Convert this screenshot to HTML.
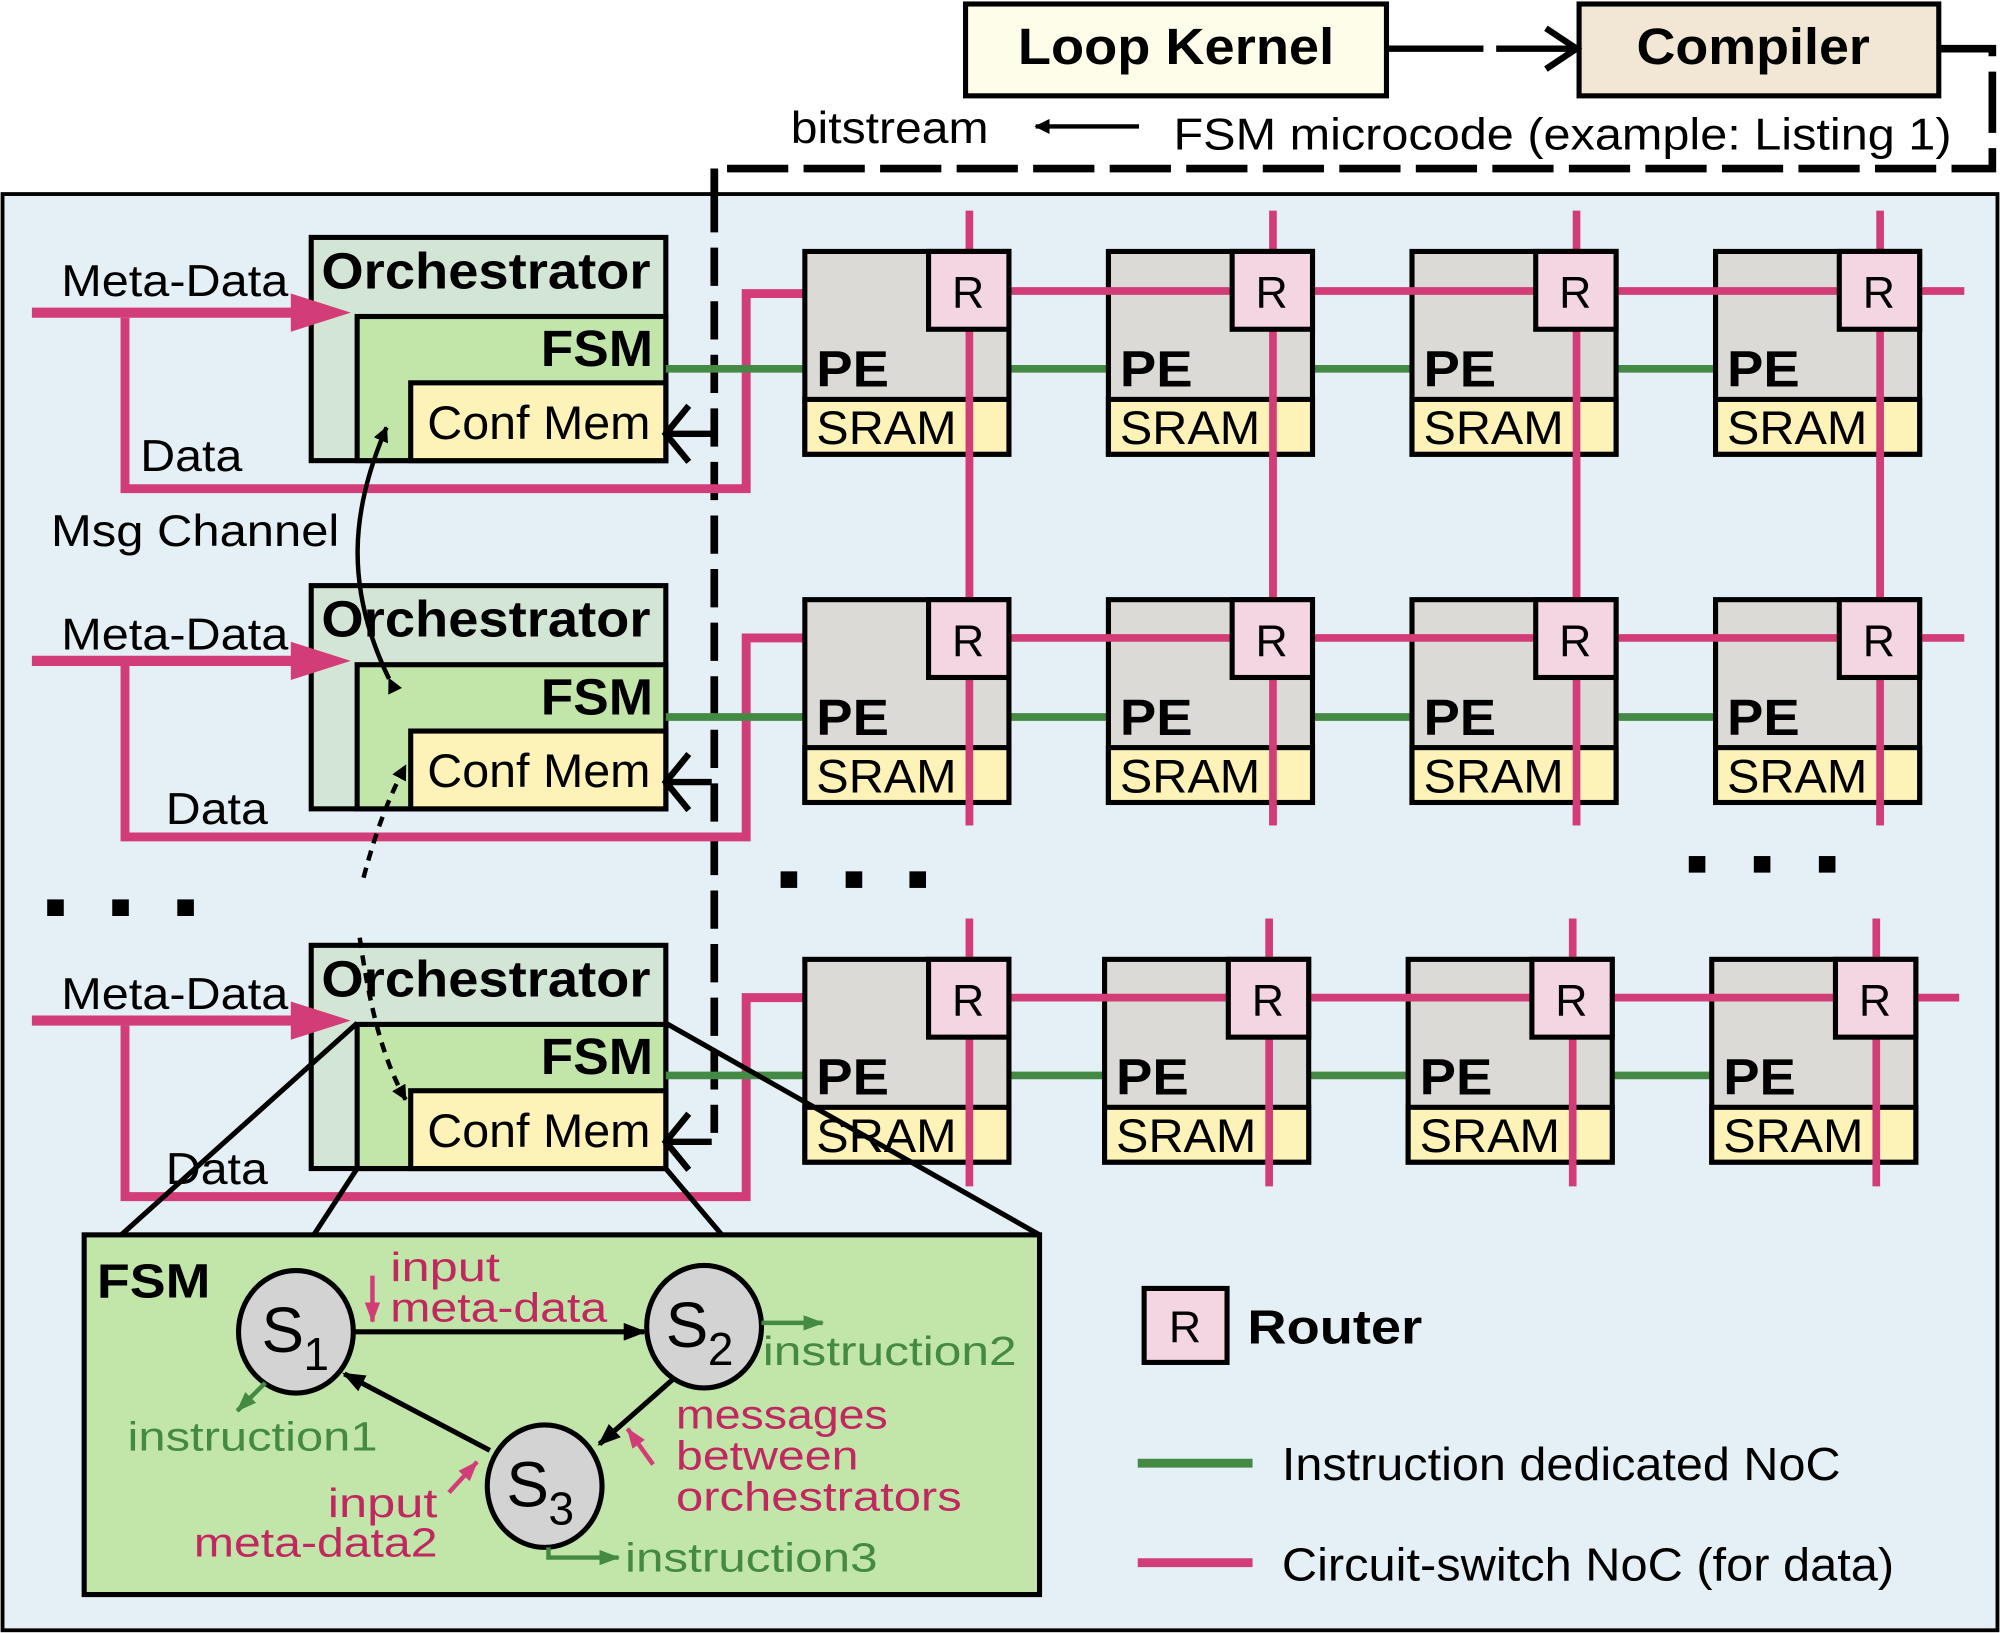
<!DOCTYPE html>
<html><head><meta charset="utf-8"><style>
html,body{margin:0;padding:0;background:#fff;}
svg{display:block;}
text{font-family:"Liberation Sans",sans-serif;}
.b{font-weight:bold;}
.n{font-family:"DejaVu Sans",sans-serif;}
</style></head><body>
<svg width="2000" height="1633" viewBox="0 0 1568 1280" xmlns="http://www.w3.org/2000/svg">
<defs>
<marker id="ab" markerWidth="12" markerHeight="12" refX="11" refY="6" orient="auto" markerUnits="userSpaceOnUse"><path d="M0,0 L12,6 L0,12 z" fill="#000"/></marker>
<marker id="ab2" markerWidth="18" markerHeight="14" refX="16" refY="7" orient="auto" markerUnits="userSpaceOnUse"><path d="M0,0 L18,7 L0,14 z" fill="#000"/></marker>
<marker id="ag" markerWidth="16" markerHeight="12" refX="15" refY="6" orient="auto" markerUnits="userSpaceOnUse"><path d="M0,0 L16,6 L0,12 z" fill="#458a44"/></marker>
<marker id="ap" markerWidth="16" markerHeight="12" refX="15" refY="6" orient="auto" markerUnits="userSpaceOnUse"><path d="M0,0 L16,6 L0,12 z" fill="#d23c77"/></marker>
</defs>
<!-- top -->
<rect x="757" y="3" width="330" height="72" fill="#fefde9" stroke="#000" stroke-width="4"/>
<text x="798" y="50" font-size="40" class="b" textLength="248" lengthAdjust="spacingAndGlyphs">Loop Kernel</text>
<rect x="1238" y="3" width="282" height="72" fill="#f2e6d4" stroke="#000" stroke-width="4"/>
<text x="1283" y="50" font-size="40" class="b" textLength="183" lengthAdjust="spacingAndGlyphs">Compiler</text>
<line x1="1089" y1="38" x2="1163" y2="38" stroke="#000" stroke-width="5"/>
<line x1="1173" y1="38" x2="1236" y2="38" stroke="#000" stroke-width="5"/>
<path d="M1212,22 L1236,38 L1212,54" fill="none" stroke="#000" stroke-width="5"/>
<path d="M1520,38 L1562,38 L1562,132 L560,132 L560,888" fill="none" stroke="#000" stroke-width="6" stroke-dasharray="48,12"/>
<text x="620" y="112" font-size="35" textLength="155" lengthAdjust="spacingAndGlyphs">bitstream</text>
<line x1="893" y1="99" x2="812" y2="99" stroke="#000" stroke-width="3.5" marker-end="url(#ab)"/>
<text x="920" y="117" font-size="35" textLength="610" lengthAdjust="spacingAndGlyphs">FSM microcode (example: Listing 1)</text>
<!-- outer -->
<rect x="2" y="152" width="1564" height="1126" fill="#e4f0f6" stroke="#000" stroke-width="3"/>
<path d="M560,152 L560,888" fill="none" stroke="#000" stroke-width="6" stroke-dasharray="30,12"/>
<line x1="560" y1="132" x2="560" y2="152" stroke="#000" stroke-width="6"/>

<g stroke="#d23c77" stroke-width="6">
<line x1="760" y1="165" x2="760" y2="647"/><line x1="998" y1="165" x2="998" y2="647"/>
<line x1="1236" y1="165" x2="1236" y2="647"/><line x1="1474" y1="165" x2="1474" y2="647"/>
</g>

<g id="row">
<rect x="244" y="186" width="278" height="175" fill="#d3e6d6" stroke="#000" stroke-width="4"/>
<rect x="280" y="248" width="242" height="113" fill="#c2e5aa" stroke="#000" stroke-width="4"/>
<rect x="322" y="300" width="200" height="61" fill="#fdf3b8" stroke="#000" stroke-width="4"/>
<text x="252" y="226" font-size="40" class="b" textLength="258" lengthAdjust="spacingAndGlyphs">Orchestrator</text>
<text x="424" y="287" font-size="40" class="b" textLength="88" lengthAdjust="spacingAndGlyphs">FSM</text>
<text x="335" y="344" font-size="37" textLength="175" lengthAdjust="spacingAndGlyphs">Conf Mem</text>
<line x1="25" y1="245" x2="240" y2="245" stroke="#d23c77" stroke-width="8"/>
<path d="M228,230 L275,245 L228,260 z" fill="#d23c77"/>
<line x1="558" y1="340" x2="520" y2="340" stroke="#000" stroke-width="5"/>
<path d="M540,318 L522,340 L540,362" fill="none" stroke="#000" stroke-width="5"/>
</g>
<use href="#row" y="273"/>
<use href="#row" y="555"/>
<g font-size="35">
<text x="48" y="232" textLength="178" lengthAdjust="spacingAndGlyphs">Meta-Data</text>
<text x="48" y="509" textLength="178" lengthAdjust="spacingAndGlyphs">Meta-Data</text>
<text x="48" y="791" textLength="178" lengthAdjust="spacingAndGlyphs">Meta-Data</text>
<text x="110" y="369" textLength="80" lengthAdjust="spacingAndGlyphs">Data</text>
<text x="130" y="646" textLength="80" lengthAdjust="spacingAndGlyphs">Data</text>
<text x="130" y="928" textLength="80" lengthAdjust="spacingAndGlyphs">Data</text>
<text x="40" y="428" textLength="226" lengthAdjust="spacingAndGlyphs">Msg Channel</text>
</g>
<g fill="none" stroke="#d23c77" stroke-width="7">
<path d="M98,249 L98,383 L585,383 L585,230 L730,230"/>
<path d="M98,522 L98,656 L585,656 L585,500 L730,500"/>
<path d="M98,804 L98,938 L585,938 L585,782 L730,782"/>
</g>

<g stroke="#458a44" stroke-width="6">
<line x1="522" y1="289" x2="631" y2="289"/><line x1="791" y1="289" x2="869" y2="289"/><line x1="1029" y1="289" x2="1107" y2="289"/><line x1="1267" y1="289" x2="1345" y2="289"/>
<line x1="522" y1="562" x2="631" y2="562"/><line x1="791" y1="562" x2="869" y2="562"/><line x1="1029" y1="562" x2="1107" y2="562"/><line x1="1267" y1="562" x2="1345" y2="562"/>
<line x1="522" y1="843" x2="631" y2="843"/><line x1="791" y1="843" x2="866" y2="843"/><line x1="1026" y1="843" x2="1104" y2="843"/><line x1="1264" y1="843" x2="1342" y2="843"/>
</g>

<g id="pe1">
<rect x="631" y="197" width="160" height="159" fill="#dcdad6" stroke="#000" stroke-width="4"/>
<rect x="631" y="313" width="160" height="43" fill="#fdf3b8" stroke="#000" stroke-width="4"/>
<text x="640" y="303" font-size="40" class="b" textLength="57" lengthAdjust="spacingAndGlyphs">PE</text>
<text x="640" y="348" font-size="37" textLength="110" lengthAdjust="spacingAndGlyphs">SRAM</text>
</g>
<use href="#pe1" x="238"/><use href="#pe1" x="476"/><use href="#pe1" x="714"/>
<use href="#pe1" y="273"/><use href="#pe1" x="238" y="273"/><use href="#pe1" x="476" y="273"/><use href="#pe1" x="714" y="273"/>
<use href="#pe1" y="555"/><use href="#pe1" x="235" y="555"/><use href="#pe1" x="473" y="555"/><use href="#pe1" x="711" y="555"/>

<g stroke="#d23c77" stroke-width="6">
<line x1="760" y1="255" x2="760" y2="647"/><line x1="998" y1="255" x2="998" y2="647"/>
<line x1="1236" y1="255" x2="1236" y2="647"/><line x1="1474" y1="255" x2="1474" y2="647"/>
<line x1="760" y1="720" x2="760" y2="930"/><line x1="995" y1="720" x2="995" y2="930"/>
<line x1="1233" y1="720" x2="1233" y2="930"/><line x1="1471" y1="720" x2="1471" y2="930"/>
</g>
<g stroke="#d23c77" stroke-width="6">
<line x1="790" y1="228" x2="1540" y2="228"/>
<line x1="790" y1="500" x2="1540" y2="500"/>
<line x1="790" y1="782" x2="1536" y2="782"/>
</g>
<g fill="#f4d6e3" stroke="#000" stroke-width="4">
<rect x="728" y="197" width="63" height="61"/><rect x="966" y="197" width="63" height="61"/><rect x="1204" y="197" width="63" height="61"/><rect x="1442" y="197" width="63" height="61"/>
<rect x="728" y="470" width="63" height="61"/><rect x="966" y="470" width="63" height="61"/><rect x="1204" y="470" width="63" height="61"/><rect x="1442" y="470" width="63" height="61"/>
<rect x="728" y="752" width="63" height="61"/><rect x="963" y="752" width="63" height="61"/><rect x="1201" y="752" width="63" height="61"/><rect x="1439" y="752" width="63" height="61"/>
</g>
<g font-size="35" text-anchor="middle">
<text x="759" y="241">R</text><text x="997" y="241">R</text><text x="1235" y="241">R</text><text x="1473" y="241">R</text>
<text x="759" y="514">R</text><text x="997" y="514">R</text><text x="1235" y="514">R</text><text x="1473" y="514">R</text>
<text x="759" y="796">R</text><text x="994" y="796">R</text><text x="1232" y="796">R</text><text x="1470" y="796">R</text>
</g>

<g fill="#000">
<rect x="37" y="705" width="13" height="13"/><rect x="88" y="705" width="13" height="13"/><rect x="139" y="705" width="13" height="13"/>
<rect x="612" y="683" width="13" height="13"/><rect x="663" y="683" width="13" height="13"/><rect x="713" y="683" width="13" height="13"/>
<rect x="1324" y="671" width="13" height="13"/><rect x="1375" y="671" width="13" height="13"/><rect x="1426" y="671" width="13" height="13"/>
</g>

<path d="M305,532 C270,460 275,400 303,335" fill="none" stroke="#000" stroke-width="3.5" marker-end="url(#ab)" marker-start="url(#ab)"/>
<path d="M285,688 C295,650 305,625 318,600" fill="none" stroke="#000" stroke-width="3.5" stroke-dasharray="8,6" marker-end="url(#ab)"/>
<path d="M282,735 C290,790 300,830 318,862" fill="none" stroke="#000" stroke-width="3.5" stroke-dasharray="8,6" marker-end="url(#ab)"/>

<g stroke="#000" stroke-width="4">
<line x1="280" y1="802" x2="95" y2="968"/><line x1="522" y1="802" x2="815" y2="968"/>
<line x1="280" y1="916" x2="246" y2="968"/><line x1="522" y1="916" x2="566" y2="968"/>
</g>

<rect x="66" y="968" width="749" height="282" fill="#c2e5aa" stroke="#000" stroke-width="4"/>
<text x="76" y="1017" font-size="38" class="b" textLength="89" lengthAdjust="spacingAndGlyphs">FSM</text>
<g fill="#d3d3d3" stroke="#000" stroke-width="4">
<ellipse cx="232" cy="1044" rx="45" ry="48"/>
<ellipse cx="552" cy="1040" rx="45" ry="48"/>
<ellipse cx="427" cy="1165" rx="45" ry="48"/>
</g>
<g font-size="50" class="n">
<text x="205" y="1060">S</text><text x="238" y="1074" font-size="36">1</text>
<text x="522" y="1056">S</text><text x="555" y="1070" font-size="36">2</text>
<text x="397" y="1181">S</text><text x="430" y="1195" font-size="36">3</text>
</g>
<line x1="278" y1="1044" x2="505" y2="1044" stroke="#000" stroke-width="4" marker-end="url(#ab2)"/>
<line x1="529" y1="1080" x2="470" y2="1132" stroke="#000" stroke-width="4" marker-end="url(#ab2)"/>
<line x1="384" y1="1137" x2="270" y2="1077" stroke="#000" stroke-width="4" marker-end="url(#ab2)"/>
<g fill="#c0295f" font-size="32" class="n">
<text x="306" y="1004" textLength="86" lengthAdjust="spacingAndGlyphs">input</text>
<text x="306" y="1036" textLength="170" lengthAdjust="spacingAndGlyphs">meta-data</text>
<text x="530" y="1120" textLength="166" lengthAdjust="spacingAndGlyphs">messages</text>
<text x="530" y="1152" textLength="143" lengthAdjust="spacingAndGlyphs">between</text>
<text x="530" y="1184" textLength="224" lengthAdjust="spacingAndGlyphs">orchestrators</text>
<text x="257" y="1189" textLength="86" lengthAdjust="spacingAndGlyphs">input</text>
<text x="152" y="1220" textLength="191" lengthAdjust="spacingAndGlyphs">meta-data2</text>
</g>
<g fill="#458a44" font-size="32" class="n">
<text x="598" y="1070" textLength="199" lengthAdjust="spacingAndGlyphs">instruction2</text>
<text x="100" y="1137" textLength="196" lengthAdjust="spacingAndGlyphs">instruction1</text>
<text x="490" y="1232" textLength="198" lengthAdjust="spacingAndGlyphs">instruction3</text>
</g>
<line x1="292" y1="1000" x2="292" y2="1036" stroke="#d23c77" stroke-width="3.5" marker-end="url(#ap)"/>
<line x1="512" y1="1148" x2="492" y2="1120" stroke="#d23c77" stroke-width="3.5" marker-end="url(#ap)"/>
<line x1="352" y1="1170" x2="374" y2="1146" stroke="#d23c77" stroke-width="3.5" marker-end="url(#ap)"/>
<line x1="597" y1="1037" x2="645" y2="1037" stroke="#458a44" stroke-width="3.5" marker-end="url(#ag)"/>
<line x1="208" y1="1084" x2="186" y2="1106" stroke="#458a44" stroke-width="3.5" marker-end="url(#ag)"/>
<path d="M430,1213 L430,1221 L485,1221" fill="none" stroke="#458a44" stroke-width="3.5" marker-end="url(#ag)"/>

<rect x="897" y="1010" width="65" height="58" fill="#f4d6e3" stroke="#000" stroke-width="4"/>
<text x="929" y="1052" font-size="35" text-anchor="middle">R</text>
<text x="978" y="1053" font-size="38" class="b" textLength="137" lengthAdjust="spacingAndGlyphs">Router</text>
<line x1="892" y1="1147" x2="982" y2="1147" stroke="#458a44" stroke-width="7"/>
<text x="1005" y="1160" font-size="36" textLength="438" lengthAdjust="spacingAndGlyphs">Instruction dedicated NoC</text>
<line x1="892" y1="1225" x2="982" y2="1225" stroke="#d23c77" stroke-width="7"/>
<text x="1005" y="1239" font-size="36" textLength="480" lengthAdjust="spacingAndGlyphs">Circuit-switch NoC (for data)</text>
</svg>
</body></html>
